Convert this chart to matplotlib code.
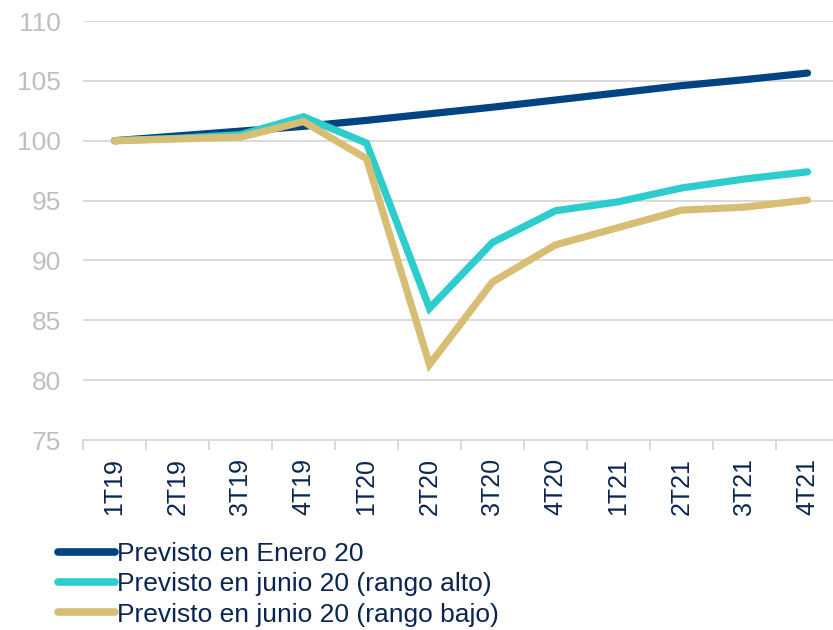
import matplotlib
matplotlib.use("Agg")
import matplotlib.pyplot as plt
from matplotlib.ticker import FixedLocator, NullFormatter

plt.rcParams['font.family'] = ['Liberation Sans', 'DejaVu Sans']

categories = ["1T19", "2T19", "3T19", "4T19", "1T20", "2T20",
              "3T20", "4T20", "1T21", "2T21", "3T21", "4T21"]
enero20 = [100.0, 100.4, 100.8, 101.2, 101.7, 102.25, 102.8, 103.4, 104.0, 104.6, 105.1, 105.65]
junio_alto = [100.0, 100.2, 100.5, 102.0, 99.8, 86.0, 91.5, 94.15, 94.9, 96.05, 96.8, 97.4]
junio_bajo = [100.0, 100.15, 100.3, 101.6, 98.5, 81.3, 88.2, 91.3, 92.75, 94.2, 94.45, 95.05]
labels = ["Previsto en Enero 20", "Previsto en junio 20 (rango alto)",
          "Previsto en junio 20 (rango bajo)"]
yticks = [75, 80, 85, 90, 95, 100, 105, 110]

colors = ["#004481", "#2dcccd", "#d8be75"]
text_navy = "#0a2550"
grid_gray = "#d9d9d9"

fig = plt.figure(figsize=(8.33, 6.3), dpi=100)
ax = fig.add_axes([83 / 833, 190 / 630, 756 / 833, 419 / 630])

x = list(range(len(categories)))
for series, c, lab in zip([enero20, junio_alto, junio_bajo], colors, labels):
    ax.plot(x, series, color=c, lw=5.2, solid_capstyle='round',
            solid_joinstyle='miter', label=lab, zorder=3)

ax.set_xlim(-0.5, len(categories) - 0.5)
ax.set_ylim(75, 110)
ax.set_yticks(yticks)
ax.set_yticklabels([str(v) for v in yticks])
ax.grid(axis='y', color=grid_gray, lw=1.4, zorder=0)
ax.tick_params(axis='y', length=0, pad=16, labelsize=19, labelcolor="#bfbfbf")

ax.set_xticks(x)
ax.set_xticklabels(categories, rotation=90)
ax.tick_params(axis='x', which='major', length=0, pad=13, labelsize=18,
               labelcolor=text_navy)
ax.xaxis.set_minor_locator(FixedLocator([i - 0.5 for i in range(len(categories) + 1)]))
ax.xaxis.set_minor_formatter(NullFormatter())
ax.tick_params(axis='x', which='minor', length=7, width=1.4, color=grid_gray)

for s in ['top', 'right', 'left']:
    ax.spines[s].set_visible(False)
ax.spines['bottom'].set_color(grid_gray)
ax.spines['bottom'].set_linewidth(1.4)

leg = fig.legend(loc='upper left', bbox_to_anchor=(58 / 833, 1 - 542 / 630),
                 frameon=False, fontsize=19, handlelength=2.15,
                 handletextpad=0.1, labelspacing=0.24, borderaxespad=0,
                 borderpad=0)
for t in leg.get_texts():
    t.set_color(text_navy)
for h in leg.get_lines():
    h.set_linewidth(5.5)
    h.set_solid_capstyle('round')

fig.savefig("out.png", dpi=100)
